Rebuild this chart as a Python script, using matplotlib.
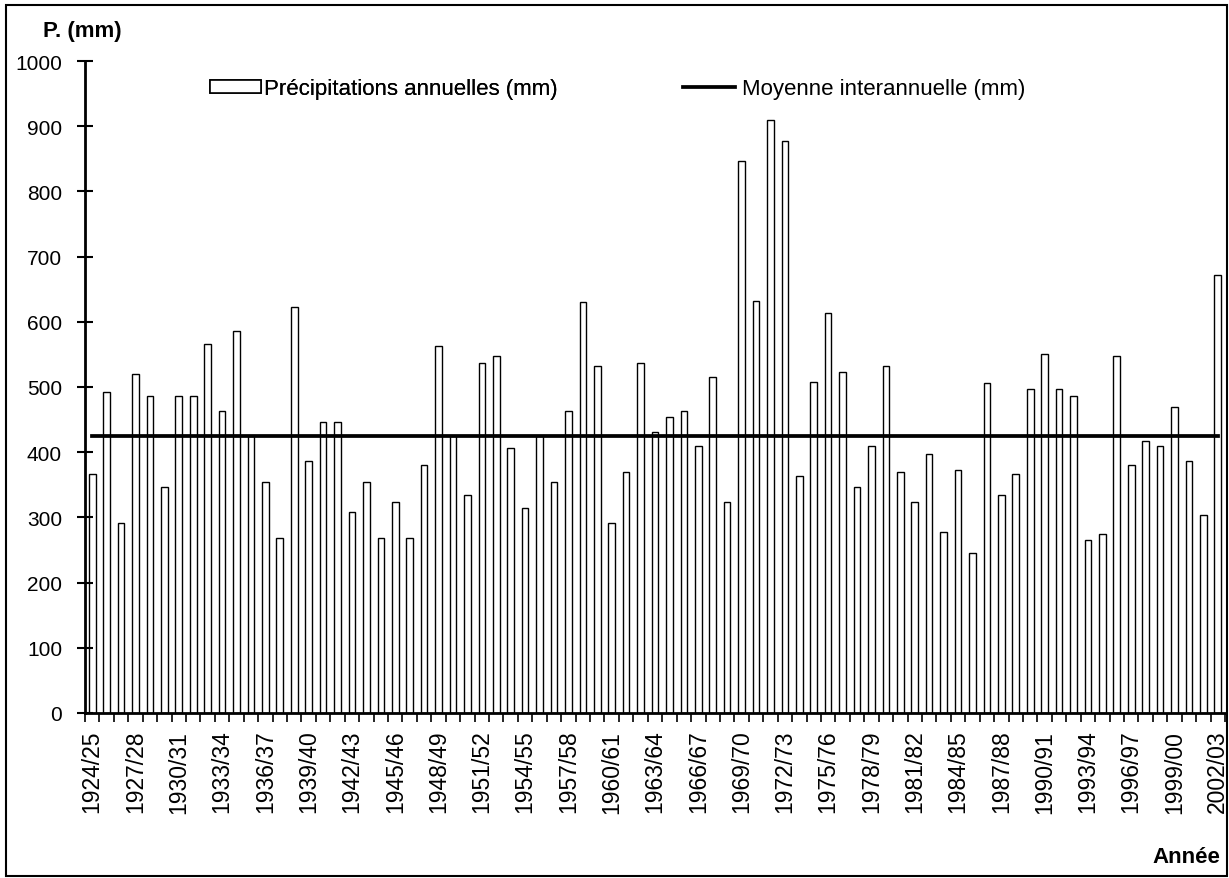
import numpy as np
import matplotlib
matplotlib.use("Agg")
from matplotlib import pyplot as plt
from matplotlib.patches import Rectangle, Patch
from matplotlib.lines import Line2D

plt.rcParams['font.family'] = ['Liberation Sans', 'DejaVu Sans']

# annual rainfall (mm), hydrological years 1924/25 .. 2002/03
first_year = 1924
rain = [366, 492, 292, 520, 486, 346, 486, 486, 566, 463,
        586, 425, 355, 269, 623, 386, 446, 446, 308, 355,
        269, 323, 269, 380, 563, 425, 334, 537, 548, 406,
        315, 425, 355, 463, 631, 532, 292, 369, 537, 431,
        454, 463, 409, 515, 323, 846, 632, 909, 878, 363,
        508, 614, 523, 346, 409, 532, 369, 323, 397, 277,
        372, 246, 506, 334, 366, 497, 551, 497, 486, 266,
        274, 548, 380, 417, 409, 469, 386, 303, 672]
mean_rain = 425

years = ["%d/%02d" % (y, (y + 1) % 100) for y in range(first_year, first_year + len(rain))]
x = np.arange(len(rain))

fig = plt.figure(figsize=(12.29, 8.79), dpi=100)
ax = fig.add_axes([85/1229, 1 - 714/879, 1140/1229, 652/879])

bars = ax.bar(x, rain, width=0.46, color="white", edgecolor="black", linewidth=1.0)
line, = ax.plot([x[0], x[-1]], [mean_rain, mean_rain], color="black", lw=2.7)

ax.set_xlim(-0.5, len(rain) - 0.5)
ax.set_ylim(0, 1000)
ax.set_yticks(range(0, 1001, 100))
ax.tick_params(axis="y", direction="inout", length=11, width=1.5, pad=11, labelsize=15)

ax.set_xticks(x[::3])
ax.set_xticklabels(years[::3], rotation=90, fontsize=16.5)
ax.set_xticks(np.arange(-0.5, len(rain), 1), minor=True)
ax.tick_params(axis="x", which="major", length=0, pad=12)
ax.tick_params(axis="x", which="minor", direction="out", length=6.5, width=1.2)

for s in ["top", "right"]:
    ax.spines[s].set_visible(False)
for s in ["left", "bottom"]:
    ax.spines[s].set_linewidth(2)

leg1 = fig.legend(handles=[Patch(facecolor="white", edgecolor="black", linewidth=1.2)],
                  labels=["Précipitations annuelles (mm)"],
                  loc="center left", bbox_to_anchor=(210/1229, 1 - 90/879),
                  frameon=False, borderpad=0, borderaxespad=0, fontsize=16,
                  handlelength=2.3, handleheight=0.55, handletextpad=0.15)
leg2 = fig.legend(handles=[Line2D([], [], color="black", lw=2.7)],
                  labels=["Moyenne interannuelle (mm)"],
                  loc="center left", bbox_to_anchor=(683/1229, 1 - 90/879),
                  frameon=False, borderpad=0, borderaxespad=0, fontsize=16,
                  handlelength=2.35, handletextpad=0.3)
fig.add_artist(leg1)

fig.text(43/1229, 1 - 31/879, "P. (mm)", fontsize=16, fontweight="bold", va="center", ha="left")
fig.text(1220/1229, 1 - 858/879, "Année", fontsize=16, fontweight="bold", va="center", ha="right")

fig.add_artist(Rectangle((6/1229, 2/879), 1221/1229, 871/879, transform=fig.transFigure,
                         fill=False, edgecolor="black", linewidth=1.5))

fig.savefig("out.png", dpi=100)
